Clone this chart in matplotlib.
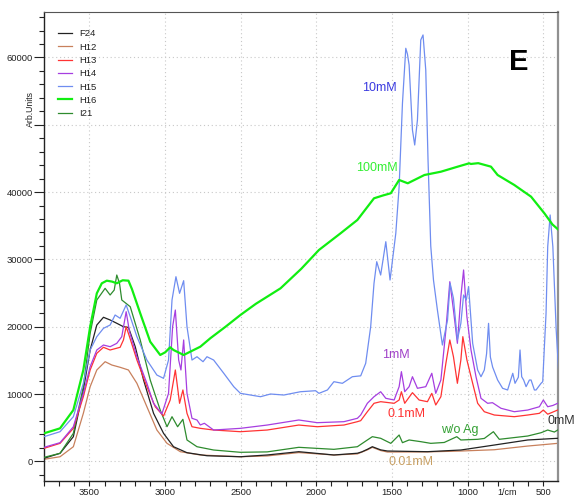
import matplotlib
matplotlib.use("Agg")
import matplotlib.pyplot as plt
from matplotlib.ticker import MultipleLocator, FixedLocator
import matplotlib.transforms as mtrans

plt.rcParams['font.family'] = ['Liberation Sans', 'DejaVu Sans']

# ---------------- data (wavenumber in 1/cm, intensity in Arb.Units) ----------------
f24_wn = [3800, 3694, 3606, 3540, 3495, 3451, 3407, 3363, 3319, 3275, 3242, 3197, 3142, 3076, 3010,
          2944, 2855, 2723, 2502, 2325, 2116, 1884, 1729, 1700, 1663, 1630, 1575, 1530, 1266, 1045,
          824, 603, 405]
f24_val = [450, 1190, 3660, 10600, 16540, 20250, 21400, 21000, 20510, 20000, 19900, 17030, 12080, 7130,
           4160, 2170, 1280, 830, 680, 940, 1430, 940, 1200, 1400, 1780, 2170, 1700, 1530, 1430, 1680,
           2420, 3170, 3420]

h12_wn = [3800, 3694, 3606, 3540, 3495, 3451, 3396, 3352, 3297, 3242, 3186, 3120, 3054, 2987, 2899,
          2767, 2502, 2325, 2116, 1884, 1729, 1663, 1630, 1575, 1530, 1266, 1045, 824, 603, 405]
h12_val = [300, 680, 2170, 7130, 11090, 13570, 14800, 14310, 13970, 13570, 11590, 8110, 4650, 2670, 1430,
           940, 680, 800, 1300, 940, 1100, 1700, 2080, 1600, 1380, 1400, 1530, 1720, 2270, 2670]

h13_wn = [3800, 3694, 3606, 3540, 3495, 3451, 3407, 3363, 3297, 3275, 3257, 3235, 3186, 3120, 3065,
          3010, 2966, 2932, 2904, 2882, 2855, 2822, 2767, 2679, 2502, 2325, 2116, 1994, 1818, 1729,
          1707, 1663, 1619, 1575, 1486, 1453, 1438, 1416, 1365, 1321, 1266, 1237, 1211, 1177, 1144,
          1118, 1094, 1068, 1045, 1032, 1005, 967, 934, 890, 824, 692, 603, 526, 500, 471, 405]
h13_val = [1930, 2670, 4900, 9600, 13570, 16050, 16940, 16540, 16940, 18030, 20000, 18520, 15050, 11090,
           8110, 6730, 9110, 13570, 8620, 10600, 7130, 5140, 4900, 4650, 4400, 4650, 5390, 5140, 5390,
           5890, 6040, 7370, 8620, 8860, 8620, 9110, 10340, 8620, 10200, 9110, 8860, 10100, 8370, 9600,
           14560, 18030, 15540, 11590, 15050, 18520, 15050, 11590, 8620, 7370, 6880, 6630, 6880, 7130,
           7620, 7000, 7620]

h14_wn = [3800, 3694, 3606, 3540, 3495, 3451, 3407, 3363, 3319, 3286, 3257, 3235, 3186, 3120, 3076,
          3021, 2977, 2950, 2932, 2910, 2895, 2877, 2855, 2822, 2789, 2767, 2740, 2679, 2502, 2325,
          2116, 1994, 1818, 1729, 1707, 1663, 1619, 1575, 1541, 1486, 1453, 1438, 1416, 1387, 1365,
          1332, 1277, 1237, 1211, 1177, 1144, 1118, 1094, 1068, 1045, 1027, 1005, 978, 945, 912, 868,
          836, 780, 692, 603, 526, 500, 471, 437, 405]
h14_val = [2080, 2770, 5140, 10100, 14060, 16540, 17280, 17030, 17530, 18520, 22230, 19260, 15540, 11590,
           8620, 7030, 10100, 20000, 22480, 15050, 13570, 18030, 10100, 6390, 6140, 5400, 5650, 4650,
           4900, 5390, 6140, 5740, 5890, 6390, 6880, 8620, 9600, 10340, 9360, 9110, 11090, 13320, 10340,
           11090, 12570, 10850, 11090, 13080, 10100, 12080, 19510, 26690, 22480, 17530, 24460, 28430,
           21490, 16540, 12570, 9360, 8620, 8710, 7880, 7370, 7620, 8110, 9110, 8110, 8300, 8620]

h15_wn = [3800, 3694, 3606, 3540, 3495, 3451, 3407, 3363, 3330, 3297, 3257, 3230, 3186, 3120, 3054,
          3010, 2977, 2954, 2928, 2904, 2877, 2855, 2822, 2789, 2749, 2723, 2679, 2612, 2546, 2502,
          2369, 2303, 2215, 2105, 2005, 1983, 1927, 1884, 1828, 1762, 1707, 1674, 1641, 1619, 1601,
          1575, 1541, 1513, 1475, 1453, 1431, 1409, 1398, 1387, 1365, 1350, 1332, 1310, 1295, 1277,
          1262, 1244, 1226, 1200, 1167, 1133, 1116, 1094, 1068, 1045, 1027, 1009, 994, 967, 934, 912,
          890, 875, 862, 850, 835, 802, 769, 736, 702, 687, 665, 654, 643, 630, 614, 592, 581, 559,
          548, 515, 504, 493, 482, 471, 455, 437, 415, 400]
h15_val = [3660, 4400, 6630, 11590, 16540, 18520, 19760, 20250, 21740, 21250, 23230, 21490, 18520, 15050,
           12820, 12330, 15050, 23970, 27430, 24960, 26840, 20000, 15050, 15540, 14800, 15540, 15050,
           13080, 11090, 10100, 9600, 10000, 9850, 10340, 10490, 10100, 10600, 11830, 11590, 12570,
           12700, 14560, 20000, 26450, 29660, 27680, 32630, 26940, 33880, 40800, 53200, 61370, 60500,
           58890, 49230, 47000, 50710, 62600, 63350, 58150, 44770, 32000, 26940, 22480, 17280, 21000,
           26450, 24220, 18030, 20510, 24710, 23970, 25950, 17530, 13570, 12570, 13570, 16000, 20500,
           15500, 14000, 12080, 10850, 10600, 13080, 11590, 12500, 16540, 12570, 12080, 11090, 12080,
           12080, 10600, 10600, 11590, 11830, 17030, 21990, 31890, 36600, 31890, 19510, 13820]

h16_wn = [3800, 3694, 3606, 3540, 3495, 3451, 3418, 3385, 3350, 3319, 3280, 3242, 3219, 3164, 3098,
          3032, 2999, 2966, 2944, 2877, 2811, 2767, 2700, 2600, 2502, 2400, 2237, 2100, 1983, 1840,
          1729, 1619, 1560, 1508, 1453, 1396, 1286, 1177, 1066, 990, 979, 930, 846, 802, 692, 581,
          493, 440, 404]
h16_val = [4160, 4900, 7620, 13570, 20000, 24960, 26450, 26840, 26700, 26450, 26900, 26840, 25600, 21990,
           17770, 15800, 16200, 16940, 16540, 15800, 16540, 17030, 18300, 20000, 21740, 23400, 25700,
           28600, 31400, 33880, 35860, 39080, 39500, 39830, 41800, 41310, 42540, 43030, 43780, 44280,
           44180, 44300, 43780, 42540, 41060, 39320, 36850, 35200, 34480]

i21_wn = [3800, 3694, 3606, 3540, 3495, 3451, 3396, 3363, 3336, 3319, 3301, 3286, 3230, 3164, 3098,
          3032, 2987, 2954, 2917, 2882, 2855, 2789, 2679, 2502, 2325, 2116, 1884, 1729, 1663, 1630,
          1575, 1508, 1453, 1431, 1387, 1310, 1244, 1155, 1072, 1045, 934, 890, 830, 791, 603, 515,
          471, 427, 405]
i21_val = [590, 1190, 4160, 11090, 19020, 23970, 25700, 24710, 25450, 27680, 26450, 23970, 22970, 18030,
           12080, 7620, 5140, 6630, 5140, 6240, 3170, 2170, 1680, 1340, 1400, 2080, 1780, 2170, 3170,
           3660, 3420, 2670, 3910, 2770, 3170, 2920, 2670, 2800, 3660, 3170, 3270, 3400, 4400, 3270,
           3760, 4250, 4650, 4350, 4650]

series_names = ["F24", "H12", "H13", "H14", "H15", "H16", "I21"]
x_ticks = [3500, 3000, 2500, 2000, 1500, 1000, 500]
y_ticks = [0, 10000, 20000, 30000, 40000, 50000, 60000]
y_ticklabels = ["0", "10000", "20000", "30000", "40000", "", "60000"]
annotations = ["10mM", "100mM", "1mM", "0.1mM", "w/o Ag", "0mM", "0.01mM"]

# ---------------- figure ----------------
W, H = 577, 496
fig = plt.figure(figsize=(W / 100, H / 100), dpi=100)
ax = fig.add_axes([44 / W, 1 - 480.7 / H, (557.7 - 44) / W, (480.7 - 12) / H])

xs = [f24_wn, h12_wn, h13_wn, h14_wn, h15_wn, h16_wn, i21_wn]
ys = [f24_val, h12_val, h13_val, h14_val, h15_val, h16_val, i21_val]
colors = ["#222222", "#c8805c", "#ff3333", "#a63ee0", "#6f8df0", "#11ee11", "#2e8b2e"]
widths = [0.9, 0.9, 0.9, 0.9, 0.9, 1.6, 0.9]
zorders = [3, 2, 4, 5, 6, 7, 3]
for x, y, c, lw, name, z in zip(xs, ys, colors, widths, series_names, zorders):
    ax.plot(x, y, color=c, lw=lw, label=name, zorder=z)

ax.set_xlim(3800, 405)
ax.set_ylim(-2880, 66760)

ax.xaxis.set_major_locator(FixedLocator(x_ticks))
ax.xaxis.set_minor_locator(MultipleLocator(100))
ax.yaxis.set_major_locator(FixedLocator(y_ticks))
ax.yaxis.set_minor_locator(MultipleLocator(2000))
ax.set_xticklabels([str(v) for v in x_ticks])
ax.set_yticklabels(y_ticklabels)
ax.tick_params(axis='both', which='both', direction='out', labelsize=6.8, colors='#222222',
               labelcolor='#222222', width=0.8)
ax.tick_params(axis='y', which='major', length=7, pad=1)
ax.tick_params(axis='y', which='minor', length=3.5)
ax.tick_params(axis='x', which='major', length=3.5, pad=1.8)
ax.tick_params(axis='x', which='minor', length=3.5)

ax.grid(True, which='major', color='#c8c8c8', lw=0.8, linestyle=(0, (1, 2.5)), zorder=0)
ax.set_axisbelow(True)

for s in ['left', 'bottom']:
    ax.spines[s].set_color('#222222')
    ax.spines[s].set_linewidth(1.0)
ax.spines['top'].set_color('#555555')
ax.spines['top'].set_linewidth(0.8)
ax.spines['right'].set_color('#909090')
ax.spines['right'].set_linewidth(1.6)

# unit label on the x axis
ax.text(737, -0.0165, "1/cm", transform=mtrans.blended_transform_factory(ax.transData, ax.transAxes),
        ha='center', va='top', fontsize=6.5, color='#222222')

fig.text(30 / W, 1 - 109 / H, "Arb.Units", rotation=90, ha='center', va='center',
         fontsize=6.3, color='#222222')

leg = ax.legend(loc='upper left', bbox_to_anchor=(58 / W, 1 - 29.5 / H),
                bbox_transform=fig.transFigure, frameon=False, fontsize=6.8,
                handlelength=1.45, handletextpad=0.75, labelspacing=0.45,
                borderpad=0, borderaxespad=0)
for t in leg.get_texts():
    t.set_color('#222222')

ax.text(519 / W, 1 - 62 / H, "E", transform=fig.transFigure, ha='center', va='center',
        fontsize=21, fontweight='bold', color='black')

ann_colors = ["#3a3ae0", "#33ee33", "#a040c8", "#ff3030", "#33a033", "#333333", "#c8a064"]
ann_pos = [(379, 88), (376.5, 168), (396, 355), (407, 414), (460, 430), (561, 421), (411, 462)]
for txt, c, (px, py) in zip(annotations, ann_colors, ann_pos):
    fig.text(px / W, 1 - py / H, txt, ha='center', va='center', fontsize=9, color=c)

fig.savefig("out.png", dpi=100)
